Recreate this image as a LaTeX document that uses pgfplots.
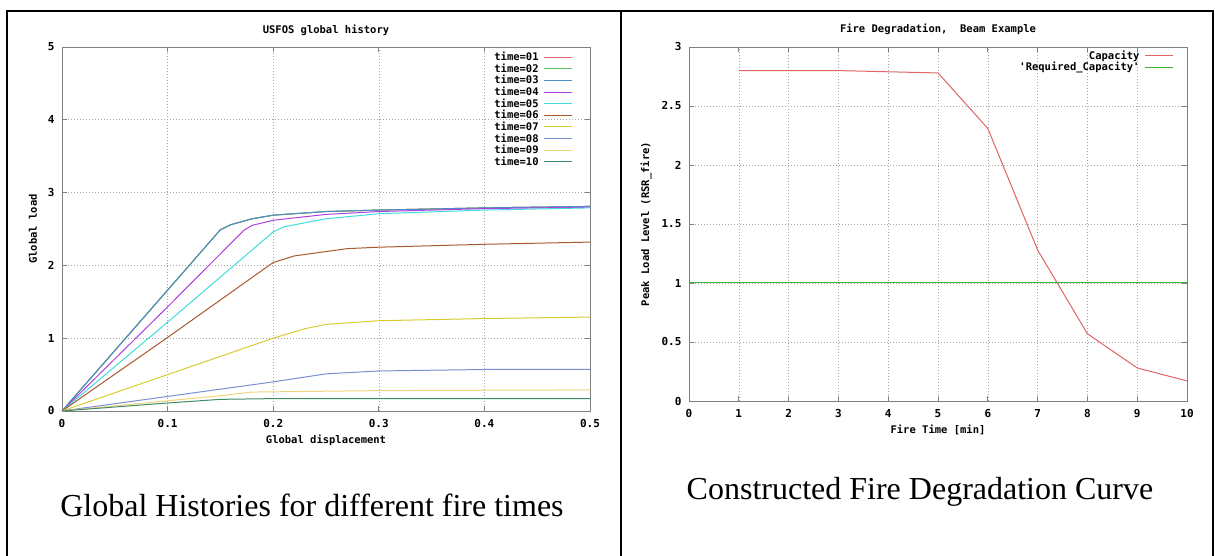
\documentclass[border=0pt]{standalone}
\usepackage{fontspec}
\setmainfont{Liberation Serif}
\newfontfamily\gp{DejaVu Sans Mono}
\usepackage{pgfplots}
\pgfplotsset{compat=1.18}

\definecolor{c01}{HTML}{E06464}
\definecolor{c02}{HTML}{5CC05C}
\definecolor{c03}{HTML}{4C8EC8}
\definecolor{c04}{HTML}{B040E0}
\definecolor{c05}{HTML}{40DCDC}
\definecolor{c06}{HTML}{A85A2C}
\definecolor{c07}{HTML}{D8CC30}
\definecolor{c08}{HTML}{7890D0}
\definecolor{c09}{HTML}{F0D47C}
\definecolor{c10}{HTML}{3E8C66}
\definecolor{req}{HTML}{3CB43C}
\definecolor{frameg}{HTML}{808080}

\newcommand{\gpf}{\gp\bfseries\fontsize{10.5}{12.5}\selectfont}
\newcommand{\gpt}{\gp\bfseries\fontsize{11}{13}\selectfont}

\pgfplotsset{
  gnu/.style={
    scale only axis,
    clip=false,
    axis line style={frameg, line width=0.9pt},
    tick style={frameg, line width=0.8pt},
    major tick length=5pt,
    tick align=inside,
    grid=major,
    major grid style={gray!70, line width=0.6pt, dash pattern=on 1pt off 2pt},
    ticklabel style={font=\gpt},
    xticklabel style={yshift=-5pt},
    yticklabel style={xshift=-4pt},
    /pgf/number format/assume math mode=true,
    label style={font=\gpf},
    legend style={draw=none, fill=none, font=\gpf, inner sep=0pt,
      row sep=-1pt, nodes={inner sep=1.3pt}},
    legend plot pos=right,
    legend image code/.code={\path (0pt,0pt); \draw[#1] (4pt,0pt) -- (32pt,0pt);},
    every axis plot/.append style={line width=1pt, no markers},
  },
}

\begin{document}
\begin{tikzpicture}
\useasboundingbox (0pt,0pt) rectangle (1215pt,556pt);
% outer frame and divider
\draw[line width=2pt] (7pt,0pt) -- (7pt,545pt) -- (1213pt,545pt) -- (1213pt,0pt);
\draw[line width=2pt] (621pt,0pt) -- (621pt,545pt);

\begin{axis}[gnu,
  at={(62pt,145pt)}, anchor=south west,
  width=528pt, height=364pt,
  xmin=0, xmax=0.5, ymin=0, ymax=5,
  xtick={0,0.1,...,0.5}, ytick={0,1,...,5},
  xlabel={Global displacement},
  xlabel style={at={(axis description cs:0.5,-0.080)}, anchor=center},
  ylabel={Global load},
  ylabel style={at={(axis description cs:-0.055,0.5)}, anchor=center},
  legend cell align=left,
  legend style={at={(axis description cs:0.968,0.99)}, anchor=north east},
]
\addplot[c01] coordinates {(0,0) (0.05,0.83) (0.10,1.66) (0.15,2.49) (0.16,2.56) (0.18,2.64) (0.20,2.69) (0.25,2.74) (0.30,2.76) (0.40,2.79) (0.50,2.81)};
\addlegendentry{time=01}
\addplot[c02] coordinates {(0,0) (0.05,0.83) (0.10,1.66) (0.15,2.49) (0.16,2.56) (0.18,2.64) (0.20,2.69) (0.25,2.74) (0.30,2.76) (0.40,2.79) (0.50,2.81)};
\addlegendentry{time=02}
\addplot[c03] coordinates {(0,0) (0.05,0.83) (0.10,1.66) (0.15,2.49) (0.16,2.56) (0.18,2.64) (0.20,2.69) (0.25,2.74) (0.30,2.76) (0.40,2.79) (0.50,2.81)};
\addlegendentry{time=03}
\addplot[c04] coordinates {(0,0) (0.10,1.43) (0.172,2.48) (0.18,2.55) (0.20,2.62) (0.25,2.70) (0.30,2.74) (0.40,2.78) (0.50,2.80)};
\addlegendentry{time=04}
\addplot[c05] coordinates {(0,0) (0.10,1.22) (0.20,2.46) (0.21,2.53) (0.25,2.64) (0.30,2.71) (0.40,2.76) (0.50,2.79)};
\addlegendentry{time=05}
\addplot[c06] coordinates {(0,0) (0.10,1.01) (0.20,2.04) (0.22,2.13) (0.25,2.19) (0.27,2.23) (0.30,2.25) (0.40,2.29) (0.50,2.32)};
\addlegendentry{time=06}
\addplot[c07] coordinates {(0,0) (0.10,0.50) (0.20,1.00) (0.23,1.13) (0.25,1.19) (0.30,1.24) (0.40,1.27) (0.50,1.29)};
\addlegendentry{time=07}
\addplot[c08] coordinates {(0,0) (0.05,0.10) (0.10,0.20) (0.15,0.30) (0.20,0.40) (0.25,0.51) (0.30,0.55) (0.40,0.57) (0.50,0.57)};
\addlegendentry{time=08}
\addplot[c09] coordinates {(0,0) (0.10,0.14) (0.15,0.21) (0.18,0.26) (0.30,0.28) (0.50,0.29)};
\addlegendentry{time=09}
\addplot[c10] coordinates {(0,0) (0.10,0.11) (0.15,0.16) (0.20,0.17) (0.50,0.17)};
\addlegendentry{time=10}
\node[font=\gpf] at (axis description cs:0.5,1.047) {USFOS global history};
\end{axis}

\begin{axis}[gnu,
  at={(689pt,155pt)}, anchor=south west,
  width=498pt, height=354pt,
  xmin=0, xmax=10, ymin=0, ymax=3,
  xtick={0,1,...,10}, ytick={0,0.5,...,3},
  xlabel={Fire Time [min]},
  xlabel style={at={(axis description cs:0.5,-0.082)}, anchor=center},
  ylabel={Peak Load Level (RSR\_fire)},
  ylabel style={at={(axis description cs:-0.086,0.5)}, anchor=center},
  legend cell align=right,
  legend style={at={(axis description cs:0.974,0.994)}, anchor=north east},
]
\addplot[c01] coordinates {(1,2.80) (2,2.80) (3,2.80) (4,2.79) (5,2.78) (6,2.31) (7,1.28) (8,0.57) (9,0.28) (10,0.17)};
\addlegendentry{Capacity}
\addplot[req] coordinates {(0,1) (10,1)};
\addlegendentry{'Required\_Capacity'}
\node[font=\gpf] at (axis description cs:0.5,1.051) {Fire Degradation,\ \ Beam Example};
\end{axis}

\node[font=\fontsize{32}{38}\selectfont] at (312pt,51pt) {Global Histories for different fire times};
\node[font=\fontsize{32}{38}\selectfont] at (920pt,64pt) {Constructed Fire Degradation Curve};
\end{tikzpicture}
\end{document}
